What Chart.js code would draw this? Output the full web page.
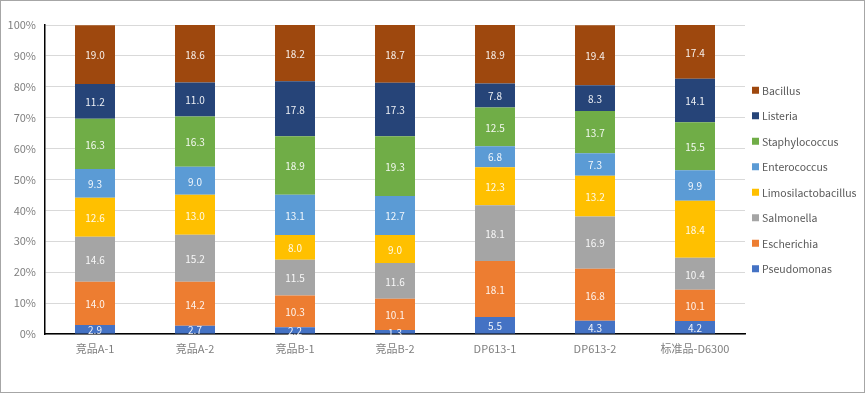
<!DOCTYPE html>
<html>
<head>
<meta charset="utf-8">
<script src="https://cdn.jsdelivr.net/npm/chart.js@4.4.1/dist/chart.umd.min.js"></script>
<style>
    html, body { margin: 0; padding: 0; background: #fff; }
    .frame {
        width: 865px; height: 393px; box-sizing: border-box;
        border: 1px solid #a6a6a6; position: relative;
    }
    canvas { display: block; }
</style>
</head>
<body>
<div class="frame">
    <canvas id="chart" width="863" height="391"></canvas>
</div>
<script>
const samples = ['竞品A-1', '竞品A-2', '竞品B-1', '竞品B-2', 'DP613-1', 'DP613-2', '标准品-D6300'];

const pseudomonas         = [2.9, 2.7, 2.2, 1.3, 5.5, 4.3, 4.2];
const escherichia         = [14.0, 14.2, 10.3, 10.1, 18.1, 16.8, 10.1];
const salmonella          = [14.6, 15.2, 11.5, 11.6, 18.1, 16.9, 10.4];
const limosilactobacillus = [12.6, 13.0, 8.0, 9.0, 12.3, 13.2, 18.4];
const enterococcus        = [9.3, 9.0, 13.1, 12.7, 6.8, 7.3, 9.9];
const staphylococcus      = [16.3, 16.3, 18.9, 19.3, 12.5, 13.7, 15.5];
const listeria            = [11.2, 11.0, 17.8, 17.3, 7.8, 8.3, 14.1];
const bacillus            = [19.0, 18.6, 18.2, 18.7, 18.9, 19.4, 17.4];

const yTicks = [0, 10, 20, 30, 40, 50, 60, 70, 80, 90, 100];

const FONT = '"Noto Sans CJK SC", "Noto Sans", sans-serif';

function series(label, data, color) {
    return {
        label: label,
        data: data,
        backgroundColor: color,
        borderWidth: 0,
        barPercentage: 0.4,
        categoryPercentage: 1.0
    };
}

// value in the middle of each segment
const segmentLabels = {
    id: 'segmentLabels',
    afterDatasetsDraw(chart) {
        const ctx = chart.ctx;
        ctx.save();
        ctx.font = '10px ' + FONT;
        ctx.fillStyle = 'rgba(255,255,255,0.92)';
        ctx.textAlign = 'center';
        ctx.textBaseline = 'middle';
        chart.data.datasets.forEach((ds, i) => {
            const meta = chart.getDatasetMeta(i);
            meta.data.forEach((bar, j) => {
                const mid = (bar.y + bar.base) / 2;
                ctx.fillText(ds.data[j].toFixed(1), bar.x, mid + 1);
            });
        });
        ctx.restore();
    }
};

// legend on the right, last series on top
const sideLegend = {
    id: 'sideLegend',
    afterDraw(chart) {
        const ctx = chart.ctx;
        const area = chart.chartArea;
        const items = chart.data.datasets.slice().reverse();
        const step = 25.5;
        const mid = (area.top + area.bottom) / 2;
        const y0 = mid - step * (items.length - 1) / 2;
        const x = area.right + 7;
        ctx.save();
        ctx.font = '10.5px ' + FONT;
        ctx.textBaseline = 'middle';
        ctx.textAlign = 'left';
        items.forEach((ds, i) => {
            const y = y0 + i * step;
            ctx.fillStyle = ds.backgroundColor;
            ctx.fillRect(x, y - 3.5, 7, 7);
            ctx.fillStyle = '#595959';
            ctx.fillText(ds.label, x + 10, y + 0.5);
        });
        ctx.restore();
    }
};

new Chart(document.getElementById('chart'), {
    type: 'bar',
    data: {
        labels: samples,
        datasets: [
            series('Pseudomonas', pseudomonas, '#4472C4'),
            series('Escherichia', escherichia, '#ED7D31'),
            series('Salmonella', salmonella, '#A5A5A5'),
            series('Limosilactobacillus', limosilactobacillus, '#FFC000'),
            series('Enterococcus', enterococcus, '#5B9BD5'),
            series('Staphylococcus', staphylococcus, '#70AD47'),
            series('Listeria', listeria, '#264478'),
            series('Bacillus', bacillus, '#9E480E')
        ]
    },
    options: {
        responsive: false,
        animation: false,
        layout: { padding: { top: 24, left: 0, right: 119, bottom: 26 } },
        plugins: {
            tooltip: { enabled: false },
            legend: { display: false }
        },
        scales: {
            x: {
                stacked: true,
                afterFit: (scale) => { scale.height = 32; },
                grid: { display: false, drawTicks: false },
                border: { color: '#000', width: 1.5 },
                ticks: {
                    color: '#7f7f7f',
                    padding: 8,
                    font: { family: FONT, size: 11 }
                }
            },
            y: {
                stacked: true,
                min: 0,
                max: 100,
                afterBuildTicks: (scale) => {
                    scale.ticks = yTicks.map(v => ({ value: v }));
                },
                afterFit: (scale) => { scale.width = 44; },
                grid: { color: '#d9d9d9', lineWidth: 1, drawTicks: false },
                border: { color: '#000', width: 1.5 },
                ticks: {
                    color: '#7f7f7f',
                    padding: 9,
                    font: { family: FONT, size: 11 },
                    callback: (v) => v + '%'
                }
            }
        }
    },
    plugins: [segmentLabels, sideLegend]
});
</script>
</body>
</html>
